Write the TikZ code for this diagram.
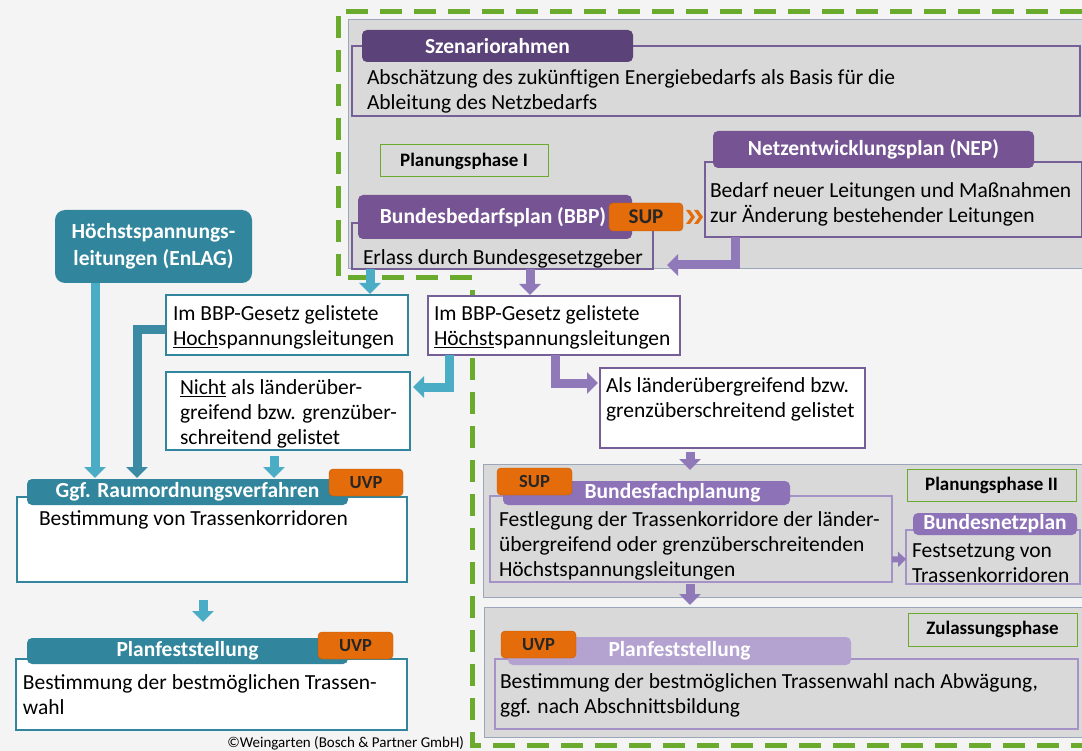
\documentclass[tikz,border=0pt]{standalone}
\usepackage{fontspec}
\setmainfont{Carlito}
\usetikzlibrary{arrows.meta, positioning}
\definecolor{bgcol}{HTML}{F4F4F4}
\definecolor{panelgray}{HTML}{D9D9D9}
\definecolor{panelline}{HTML}{9BA7B9}
\definecolor{phasegreen}{HTML}{6AAB2E}
\definecolor{darkpurple}{HTML}{5B4278}
\definecolor{midpurple}{HTML}{765494}
\definecolor{lightpurple}{HTML}{8D72B8}
\definecolor{palepurple}{HTML}{B4A3D0}
\definecolor{boxpurple}{HTML}{765F96}
\definecolor{lightbox}{HTML}{A592C6}
\definecolor{arrowpurple}{HTML}{9079B8}
\definecolor{tealhdr}{HTML}{31859C}
\definecolor{lightblue}{HTML}{4BACC6}
\definecolor{darkblue}{HTML}{3B8BA5}
\definecolor{uvporange}{HTML}{E46C0A}

\begin{document}
\begin{tikzpicture}[x=1pt, y=-1pt,
  every node/.style={inner sep=0pt, outer sep=0pt, anchor=north west},
  phaseline/.style={draw=phasegreen, line width=5pt, dash pattern=on 22pt off 12pt},
  panel/.style={draw=panelline, fill=panelgray, line width=1pt},
  pbox/.style={draw=boxpurple, line width=1.2pt},
  tbox/.style={draw=tealhdr, fill=white, line width=1.5pt},
  hdr/.style={rounded corners=5pt, text=white, font=\bfseries\fontsize{21.5}{25}\selectfont},
  uvp/.style={fill=uvporange, draw=uvporange!85!black, rounded corners=4pt, text=black!85, font=\bfseries\fontsize{18.5}{21}\selectfont},
  phase/.style={draw=phasegreen, line width=1pt, fill=panelgray, font=\bfseries\fontsize{19}{21}\selectfont},
  txt/.style={align=left, font=\fontsize{21.5}{25}\selectfont},
  barrow/.style={draw=lightblue, line width=9pt, -{Triangle[width=21pt,length=11pt]}},
  darrow/.style={barrow, draw=darkblue},
  parrow/.style={barrow, draw=arrowpurple},
  smallparrow/.style={draw=arrowpurple, line width=6pt, -{Triangle[width=15pt,length=8pt]}}]

  \fill[bgcol] (0,0) rectangle (1082,751);
  \useasboundingbox (0,0) rectangle (1082,751);
  \draw[phaseline] (1082,12) -- (338,12) -- (338,278) -- (472,278) -- (472,745) -- (1082,745);

  \node[panel, minimum width=734pt, minimum height=249pt] (panelI) at (348,20) {};
  \node[pbox, minimum width=728pt, minimum height=70pt] (szenbox) at (352,46) {};
  \node[hdr, fill=darkpurple, minimum width=271pt, minimum height=32pt] (szenhdr) at (362,30) {Szenariorahmen};
  \node[txt] (szentxt) at (367,70) {Abschätzung des zukünftigen Energiebedarfs als Basis für die\\Ableitung des Netzbedarfs};
  \node[phase, minimum width=168pt, minimum height=32pt] (phaseI) at (380,145) {Planungsphase I};

  \node[pbox, minimum width=377pt, minimum height=75pt] (nepbox) at (705,162) {};
  \node[hdr, fill=midpurple, minimum width=321pt, minimum height=37pt] (nephdr) at (713,131) {Netzentwicklungsplan (NEP)};
  \node[txt] (neptxt) at (710,183) {Bedarf neuer Leitungen und Maßnahmen\\zur Änderung bestehender Leitungen};

  \node[pbox, minimum width=301pt, minimum height=46pt] (bbpbox) at (352,223) {};
  \node[hdr, fill=midpurple, minimum width=274pt, minimum height=44pt] (bbphdr) at (358,195) {Bundesbedarfsplan (BBP)\hspace*{4pt}};
  \node[uvp, font=\bfseries\fontsize{21}{23}\selectfont, minimum width=74pt, minimum height=28pt] (supI) at (609,203) {SUP};
  \node[txt] (bbptxt) at (363,250) {Erlass durch Bundesgesetzgeber};
  \fill[uvporange] ([xshift=3pt]supI.east) ++(0,-7) -- ++(4,0) -- ++(5,7) -- ++(-5,7) -- ++(-4,0) -- ++(5,-7) -- cycle;
  \fill[uvporange] ([xshift=11pt]supI.east) ++(0,-7) -- ++(4,0) -- ++(5,7) -- ++(-5,7) -- ++(-4,0) -- ++(5,-7) -- cycle;
  \draw[parrow] ([xshift=30pt]nepbox.south west) |- ([xshift=14pt,yshift=4pt]bbpbox.south east);

  \node[hdr, fill=tealhdr, rounded corners=10pt, align=center, font=\bfseries\fontsize{21.5}{27}\selectfont, minimum width=197pt, minimum height=73pt] (enlag) at (55,210) {Höchstspannungs-\\leitungen (EnLAG)};

  \node[tbox, minimum width=242pt, minimum height=60pt] (hochbox) at (166,295) {};
  \node[txt] (hochtxt) at (173,306) {Im BBP-Gesetz gelistete\\\underline{Hoch}spannungsleitungen};
  \node[pbox, fill=white, minimum width=252pt, minimum height=59pt] (hoechstbox) at (428,296) {};
  \node[txt] (hoechsttxt) at (434,306) {Im BBP-Gesetz gelistete\\\underline{Höchst}spannungsleitungen};
  \node[tbox, minimum width=244pt, minimum height=78pt] (nichtbox) at (166,372) {};
  \node[txt] (nichttxt) at (180,380) {\underline{Nicht} als länderüber-\\greifend bzw. grenzüber-\\schreitend gelistet};
  \node[pbox, fill=white, minimum width=265pt, minimum height=80pt] (alsbox) at (600,368) {};
  \node[txt] (alstxt) at (606,378) {Als länderübergreifend bzw.\\grenzüberschreitend gelistet};

  \node[tbox, minimum width=390pt, minimum height=85pt] (ggfbox) at (17,497) {};
  \node[hdr, fill=tealhdr, minimum width=321pt, minimum height=26pt] (ggfhdr) at (27,479) {Ggf. Raumordnungsverfahren};
  \node[uvp, minimum width=74pt, minimum height=27pt] (uvpI) at (329,469) {UVP};
  \node[txt] (ggftxt) at (39,511) {Bestimmung von Trassenkorridoren};

  \node[tbox, minimum width=391pt, minimum height=71pt] (planLbox) at (16,659) {};
  \node[hdr, fill=tealhdr, minimum width=321pt, minimum height=26pt] (planLhdr) at (27,638) {Planfeststellung};
  \node[uvp, minimum width=75pt, minimum height=27pt] (uvpII) at (318,632) {UVP};
  \node[txt] (planLtxt) at (23,675) {Bestimmung der bestmöglichen Trassen-\\wahl};
  \node[anchor=east, font=\fontsize{15}{17}\selectfont] (credit) at (464,743) {©Weingarten (Bosch \& Partner GmbH)};

  \node[panel, minimum width=599pt, minimum height=133pt] (panelII) at (483,464) {};
  \node[pbox, draw=lightbox, minimum width=402pt, minimum height=86pt] (bfpbox) at (490,496) {};
  \node[hdr, fill=lightpurple, minimum width=287pt, minimum height=24pt] (bfphdr) at (503,481) {\hspace*{52pt}Bundesfachplanung};
  \node[uvp, minimum width=75pt, minimum height=27pt] (supII) at (497,468) {SUP};
  \node[txt] (bfptxt) at (499,512) {Festlegung der Trassenkorridore der länder-\\übergreifend oder grenzüberschreitenden\\Höchstspannungsleitungen};
  \node[phase, minimum width=169pt, minimum height=32pt] (phaseII) at (907,469) {Planungsphase II};
  \node[pbox, draw=lightbox, minimum width=174pt, minimum height=54pt] (bnpbox) at (906,530) {};
  \node[hdr, fill=lightpurple, minimum width=164pt, minimum height=22pt] (bnphdr) at (913,513) {Bundesnetzplan};
  \node[txt] (bnptxt) at (912,544) {Festsetzung von\\Trassenkorridoren};

  \node[panel, minimum width=598pt, minimum height=130pt] (panelZ) at (484,607) {};
  \node[phase, minimum width=169pt, minimum height=33pt] (phaseZ) at (908,613) {Zulassungsphase};
  \node[pbox, draw=lightbox, minimum width=583pt, minimum height=70pt] (plRbox) at (495,659) {};
  \node[hdr, fill=palepurple, minimum width=343pt, minimum height=28pt] (plRhdr) at (508,637) {Planfeststellung};
  \node[uvp, minimum width=75pt, minimum height=27pt] (uvpIII) at (501,631) {UVP};
  \node[txt] (plRtxt) at (500,674) {Bestimmung der bestmöglichen Trassenwahl nach Abwägung,\\ggf. nach Abschnittsbildung};

  \draw[barrow] ([xshift=40pt]enlag.south west) -- ([xshift=68pt,yshift=1pt]ggfhdr.north west);
  \draw[darrow] ([yshift=-5pt]hochbox.west) -| ([xshift=110pt,yshift=1pt]ggfhdr.north west);
  \draw[barrow] ([xshift=22pt]panelI.south west) -- ([xshift=204pt,yshift=1pt]hochbox.north west);
  \draw[parrow] ([xshift=182pt]panelI.south west) -- ([xshift=102pt,yshift=1pt]hoechstbox.north west);
  \draw[barrow] ([xshift=21pt]hoechstbox.south west) |- ([xshift=3pt,yshift=24pt]nichtbox.east);
  \draw[parrow] ([xshift=127pt]hoechstbox.south west) |- ([xshift=-2pt,yshift=25pt]alsbox.west);
  \draw[barrow] ([xshift=108pt,yshift=-6pt]nichtbox.south west) -- ([xshift=247pt,yshift=1pt]ggfhdr.north west);
  \draw[parrow] ([xshift=90pt,yshift=-4pt]alsbox.south west) -- ([xshift=207pt,yshift=-6pt]panelII.north west);
  \draw[barrow] ([xshift=186pt,yshift=-18pt]ggfbox.south west) -- ([xshift=176pt,yshift=16pt]planLhdr.north west);
  \draw[smallparrow] ([yshift=-20.5pt]bfpbox.east) -- ([yshift=-2pt]bnpbox.west);
  \draw[parrow] ([xshift=200pt,yshift=-2pt]bfpbox.south west) -- ([xshift=206pt,yshift=2pt]panelZ.north west);
\end{tikzpicture}
\end{document}
